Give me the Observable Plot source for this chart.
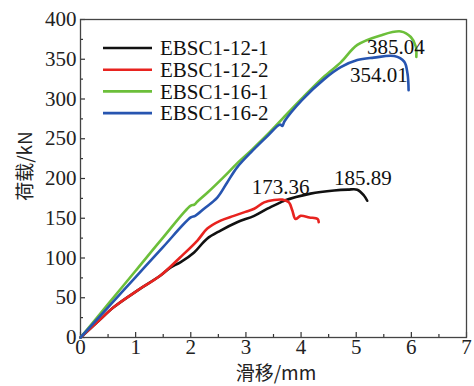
<!DOCTYPE html>
<html><head><meta charset="utf-8">
<script src="https://cdn.jsdelivr.net/npm/d3@7"></script>
<script src="https://cdn.jsdelivr.net/npm/@observablehq/plot@0.6"></script>
<style>
body{margin:0;background:#fff;}
#chart{position:relative;width:474px;height:386px;}
</style></head>
<body><div id="chart"></div>
<script>
const seriesNames = ["EBSC1-12-1","EBSC1-12-2","EBSC1-16-1","EBSC1-16-2"];
const seriesColors = ["#111111","#e8231f","#6cbf3a","#2755b0"];

const x121 = [0,0.3,0.6,1.03,1.45,1.63,1.81,2.06,2.29,2.54,2.84,3.15,3.39,3.63,3.69,4.17,4.6,4.85,5.02,5.14,5.2];
const y121 = [0,19,38,59,78,88,94.5,107,124,134.5,145,153,162,170,172,181,185,186,185.9,178.6,172];

const x122 = [0,0.3,0.6,1.03,1.45,1.81,2.12,2.30,2.54,2.78,2.99,3.15,3.33,3.51,3.66,3.78,3.84,3.90,3.99,4.15,4.30,4.32];
const y122 = [0,19,38,59,78,101,122,137,147,153,158,162,170,173,173.4,170,160,149,153,151,149,145];

const x161 = [0,0.5,1.0,1.5,2.0,2.06,2.12,2.3,2.6,2.84,3.12,3.4,3.66,4.02,4.4,4.72,5.02,5.44,5.81,5.99,6.08,6.09];
const y161 = [0,42,84,126,166,167,171,182,202,219,237,256,275,301,327,346,368,380,385,378,366,353];

const x162 = [0,0.5,1.0,1.5,2.0,2.08,2.24,2.48,2.66,2.84,3.12,3.4,3.62,3.66,3.7,4.02,4.42,4.72,5.02,5.32,5.69,5.87,5.93,5.95];
const y162 = [0,38,76,114,151,153,162,176,195,214,235,254,268,266,272,299,325,340,349,352,354,347,332,311];

const peakLabels = ["185.89","173.36","385.04","354.01"];
const peakLabelX = [5.12,3.63,5.72,5.41];
const peakLabelY = [200,189,365,330];

const xTicks = [0,1,2,3,4,5,6,7];
const xMinor = [0.5,1.5,2.5,3.5,4.5,5.5,6.5];
const yTicks = [0,50,100,150,200,250,300,350,400];
const yMinor = [25,75,125,175,225,275,325,375];

const xs = [x121,x122,x161,x162], ys = [y121,y122,y161,y162];
const rows = [];
seriesNames.forEach((name,i)=>{ xs[i].forEach((x,j)=>rows.push({name, x, y: ys[i][j]})); });
const labels = peakLabels.map((t,i)=>({t, x: peakLabelX[i], y: peakLabelY[i]}));

const W = 474, H = 386, mL = 80, mR = 8, mT = 19, mB = 49;
const innerH = H - mT - mB;
const serif = "'Liberation Serif','Times New Roman',serif";

const chart = Plot.plot({
  width: W, height: H,
  marginLeft: mL, marginRight: mR, marginTop: mT, marginBottom: mB,
  style: {fontFamily: serif, fontSize: "21px", color: "#222", background: "#fff"},
  x: {domain: [0,7]},
  y: {domain: [0,400]},
  color: {domain: seriesNames, range: seriesColors},
  marks: [
    Plot.axisX({ticks: xTicks, tickSize: 0, tickPadding: 2, fontSize: 21, label: null, tickFormat: d=>d, fontFamily: serif}),
    Plot.axisY({ticks: yTicks, tickSize: 0, tickPadding: 4, fontSize: 21, label: null, tickFormat: d=>d, fontFamily: serif}),
    Plot.tickX(xTicks, {x: d=>d, insetTop: innerH - 5, stroke: "#333", strokeWidth: 1.2}),
    Plot.tickX(xMinor, {x: d=>d, insetTop: innerH - 3, stroke: "#333", strokeWidth: 1.2}),
    Plot.tickY(yTicks, {y: d=>d, insetRight: W - mL - mR - 5, stroke: "#333", strokeWidth: 1.2}),
    Plot.tickY(yMinor, {y: d=>d, insetRight: W - mL - mR - 3, stroke: "#333", strokeWidth: 1.2}),
    Plot.frame({stroke: "#444", strokeWidth: 1.3}),
    Plot.line(rows, {x: "x", y: "y", z: "name", stroke: "name", strokeWidth: 2.6, curve: "catmull-rom"}),
    Plot.text(labels, {x: "x", y: "y", text: "t", fontSize: 21, fill: "#111", fontFamily: serif})
  ]
});
document.getElementById("chart").appendChild(chart);

// legend and axis titles
const svg = d3.select(chart);
const lg = svg.append("g");
seriesNames.forEach((n,i)=>{
  const yy = 48 + i*21.7;
  lg.append("line").attr("x1",103).attr("x2",152).attr("y1",yy).attr("y2",yy)
    .attr("stroke",seriesColors[i]).attr("stroke-width",2.6);
  lg.append("text").attr("x",160).attr("y",yy).attr("dy","0.35em").attr("text-anchor","start")
    .attr("font-family",serif).attr("font-size",21).attr("fill","#111").text(n);
});
svg.append("text").attr("x", 276).attr("y", 373).attr("dy","0.35em").attr("text-anchor","middle")
  .attr("font-family","'Noto Sans CJK SC',"+serif).attr("font-size",19).attr("fill","#222").text("滑移/mm");
svg.append("text").attr("transform","translate(25,166) rotate(-90)").attr("dy","0.35em").attr("text-anchor","middle")
  .attr("font-family","'Noto Sans CJK SC',"+serif).attr("font-size",19).attr("fill","#222").text("荷载/kN");
</script></body></html>
